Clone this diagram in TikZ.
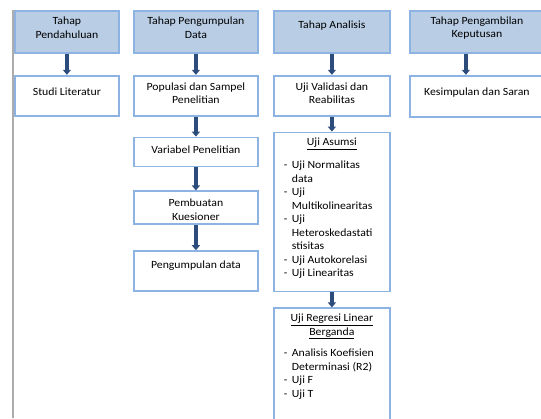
\documentclass[tikz,border=0pt]{standalone}
\usepackage{fontspec}
\setmainfont[FakeStretch=1.07]{Carlito}
\usepackage{tikz}
\usetikzlibrary{positioning,arrows.meta}
\definecolor{boxline}{RGB}{141,179,226}
\definecolor{hdrfill}{RGB}{185,205,229}
\definecolor{flowblue}{RGB}{44,77,124}
\newcommand{\boxtext}[4]{\parbox[c][#2][c]{#1}{\centering #4\par\vspace{#3}}}
\newcommand{\listbox}[3]{\parbox[c][#2][t]{#1}{#3}}
\newcommand{\itm}[1]{\par\hangindent=8pt\hangafter=1\noindent\makebox[8pt][l]{-}#1}

\begin{document}
\begin{tikzpicture}[x=1pt, y=-1pt,
    every node/.style={font=\fontsize{11}{13.5}\selectfont, inner sep=0pt},
    hdr/.style={draw=boxline, fill=hdrfill, line width=1.8pt, anchor=north west},
    box/.style={draw=boxline, fill=white, line width=1.8pt},
    flow/.style={draw=flowblue, line width=3.6pt, -{Triangle[width=8pt,length=5pt]}}]
    \useasboundingbox (0,0) rectangle (541,418);
    \clip (0,0) rectangle (541,418);
    \fill[white] (0,0) rectangle (541,418);

    % Page edge
    \draw[gray!65, line width=1.5pt] (13,10) -- (13,418);

    % Headers
    \node[hdr] (hdrA) at (14,10) {\boxtext{104pt}{42pt}{8pt}{Tahap\\Pendahuluan}};
    \node[hdr] (hdrB) at (133,10) {\boxtext{124pt}{42pt}{8pt}{Tahap Pengumpulan\\Data}};
    \node[hdr] (hdrC) at (273,10) {\boxtext{116pt}{42pt}{12pt}{Tahap Analisis}};
    \node[hdr] (hdrD) at (409,10) {\boxtext{134pt}{42pt}{8pt}{Tahap Pengambilan\\Keputusan}};

    % Pendahuluan
    \node[box, below=21pt of hdrA] (lit) {\boxtext{104pt}{40pt}{8pt}{Studi Literatur}};

    % Pengumpulan data
    \node[box, below=21pt of hdrB] (pop) {\boxtext{124pt}{40pt}{5pt}{Populasi dan Sampel\\Penelitian}};
    \node[box, below=20pt of pop] (var) {\boxtext{124pt}{29pt}{5pt}{Variabel Penelitian}};
    \node[box, below=23pt of var] (kue) {\boxtext{124pt}{33pt}{-4pt}{Pembuatan\\Kuesioner}};
    \node[box, below=25pt of kue] (kumpul) {\boxtext{124pt}{40pt}{10pt}{Pengumpulan data}};

    % Analisis
    \node[box, below=21pt of hdrC] (val) {\boxtext{116pt}{40pt}{5pt}{Uji Validasi dan\\Reabilitas}};
    \node[box, below=15pt of val] (asumsi) {\listbox{116pt}{159pt}{%
        \vspace*{4pt}\centering\strut\underline{Uji Asumsi}\par\vspace{9.5pt}
        \raggedright\leftskip=10pt\let\\\newline
        \itm{Uji Normalitas\\data}
        \itm{Uji\\Multikolinearitas}
        \itm{Uji\\Heteroskedastati\\stisitas}
        \itm{Uji Autokorelasi}
        \itm{Uji Linearitas}\par}};
    \node[box, below=15pt of asumsi] (regresi) {\listbox{116pt}{125pt}{%
        \vspace*{4pt}\centering\strut\underline{Uji Regresi Linear}\\\underline{Berganda}\par\vspace{8pt}
        \raggedright\leftskip=10pt\let\\\newline
        \itm{Analisis Koefisien\\Determinasi (R2)}
        \itm{Uji F}
        \itm{Uji T}\par}};

    % Pengambilan keputusan
    \node[box, below=21pt of hdrD] (kes) {\boxtext{134pt}{41pt}{8pt}{Kesimpulan dan Saran}};

    % Arrows
    \draw[flow] (hdrA) -- (lit);
    \draw[flow] (hdrB) -- (pop);
    \draw[flow] (pop) -- (var);
    \draw[flow] (var) -- (kue);
    \draw[flow] (kue) -- (kumpul);
    \draw[flow] (hdrC) -- (val);
    \draw[flow] (val) -- (asumsi);
    \draw[flow] (asumsi) -- (regresi);
    \draw[flow] ([xshift=-11pt]hdrD.south) -- ([xshift=-11pt]kes.north);
\end{tikzpicture}
\end{document}
